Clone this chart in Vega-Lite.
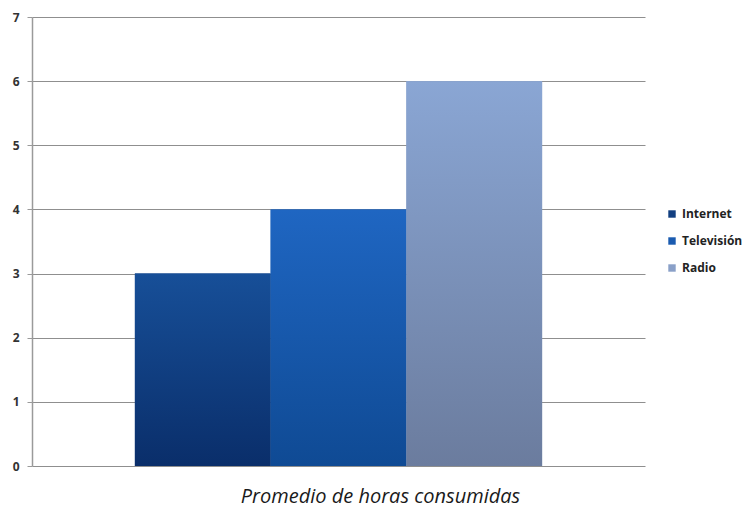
{
  "$schema": "https://vega.github.io/schema/vega-lite/v6.json",
  "width": 613,
  "height": 449,
  "autosize": {"type": "none"},
  "padding": {"left": 32, "top": 17, "right": 105, "bottom": 47},
  "background": "white",
  "config": {"view": {"stroke": null}},
  "data": {
    "values": [
      {"medio": "Internet", "horas": 3},
      {"medio": "Televisión", "horas": 4},
      {"medio": "Radio", "horas": 6}
    ]
  },
  "encoding": {
    "x": {
      "field": "medio",
      "type": "nominal",
      "sort": ["Internet", "Televisión", "Radio"],
      "scale": {"paddingInner": 0, "paddingOuter": 0.758},
      "axis": {
        "labels": false,
        "ticks": false,
        "domain": false,
        "title": "Promedio de horas consumidas",
        "titleFont": "Open Sans",
        "titleFontStyle": "italic",
        "titleFontWeight": "normal",
        "titleFontSize": 20,
        "titleColor": "#1a1a1a",
        "titleX": 348,
        "titlePadding": 20
      }
    },
    "y": {
      "field": "horas",
      "type": "quantitative",
      "scale": {"domain": [0, 7], "nice": false},
      "axis": {
        "values": [0, 1, 2, 3, 4, 5, 6, 7],
        "title": null,
        "grid": true,
        "gridColor": "#8f8f8f",
        "gridWidth": 1,
        "domainColor": "#9a9a9a",
        "domainWidth": 1.5,
        "tickColor": "#9a9a9a",
        "tickSize": 5,
        "labelFont": "Open Sans",
        "labelFontWeight": "bold",
        "labelFontSize": 12,
        "labelColor": "#333333",
        "labelPadding": 8
      }
    }
  },
  "layer": [
    {
      "mark": {"type": "bar"},
      "encoding": {
        "color": {
          "field": "medio",
          "type": "nominal",
          "scale": {
            "domain": ["Internet", "Televisión", "Radio"],
            "range": ["#123f80", "#1a5bb0", "#8aa0c8"]
          },
          "legend": {
            "title": null,
            "orient": "none",
            "legendX": 634,
            "legendY": 191,
            "symbolType": "square",
            "symbolSize": 55,
            "symbolStrokeWidth": 0,
            "labelFont": "Open Sans",
            "labelFontSize": 12,
            "labelFontWeight": "bold",
            "labelColor": "#222222",
            "rowPadding": 15,
            "labelOffset": 4
          }
        }
      }
    },
    {
      "transform": [{"filter": "datum.medio === 'Internet'"}],
      "mark": {
        "type": "bar",
        "color": {
          "gradient": "linear", "x1": 0, "y1": 0, "x2": 0, "y2": 1,
          "stops": [{"offset": 0, "color": "#174f98"}, {"offset": 1, "color": "#0a2e6a"}]
        }
      }
    },
    {
      "transform": [{"filter": "datum.medio === 'Televisión'"}],
      "mark": {
        "type": "bar",
        "color": {
          "gradient": "linear", "x1": 0, "y1": 0, "x2": 0, "y2": 1,
          "stops": [{"offset": 0, "color": "#1f66c2"}, {"offset": 1, "color": "#0f4a94"}]
        }
      }
    },
    {
      "transform": [{"filter": "datum.medio === 'Radio'"}],
      "mark": {
        "type": "bar",
        "color": {
          "gradient": "linear", "x1": 0, "y1": 0, "x2": 0, "y2": 1,
          "stops": [{"offset": 0, "color": "#8aa6d4"}, {"offset": 1, "color": "#6b7c9e"}]
        }
      }
    }
  ]
}
